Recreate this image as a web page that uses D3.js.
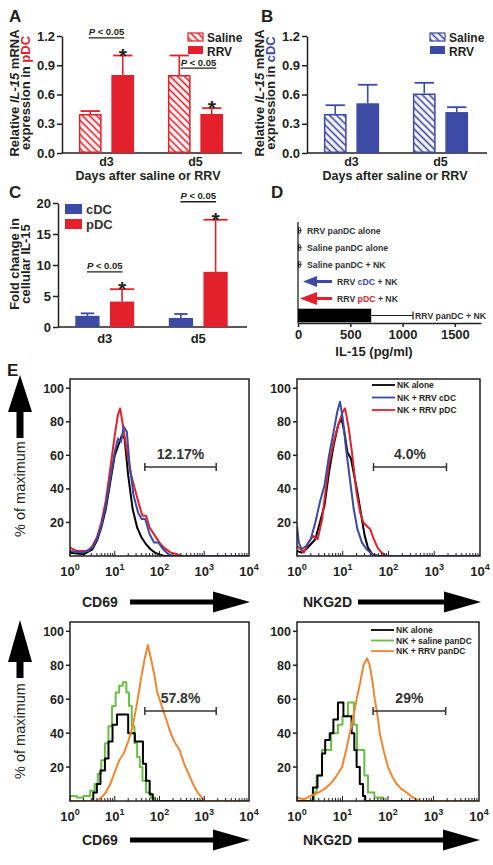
<!DOCTYPE html>
<html><head><meta charset="utf-8">
<script src="https://cdn.jsdelivr.net/npm/d3@7"></script>
<style>body{margin:0;background:#fff}svg{display:block}</style>
</head><body><script>
// ---------------- DATA ----------------
const days = ['d3', 'd5'];
// A: IL-15 mRNA in pDC
const aSeries = ['Saline', 'RRV'];
const aSaline = [0.40, 0.80], aSalineErr = [0.03, 0.20];
const aRRV = [0.80, 0.40], aRRVErr = [0.20, 0.06];
// B: IL-15 mRNA in cDC
const bSaline = [0.40, 0.61], bSalineErr = [0.09, 0.11];
const bRRV = [0.51, 0.42], bRRVErr = [0.19, 0.05];
const abTicks = [0, 0.3, 0.6, 0.9, 1.2];
// C: fold change in cellular IL-15
const cSeries = ['cDC', 'pDC'];
const cCDC = [1.8, 1.45], cCDCErr = [0.4, 0.65];
const cPDC = [4.1, 8.9], cPDCErr = [2.0, 8.4];
const cTicks = [0, 5, 10, 15, 20];
// D: IL-15 (pg/ml)
const dConds = ['RRV panDC alone', 'Saline panDC alone', 'Saline panDC + NK', 'RRV cDC + NK', 'RRV pDC + NK', 'RRV panDC + NK'];
const dVals = [10, 10, 10, 0, 0, 700];
const dErr = [20, 20, 20, 0, 0, 400];
const dTicks = [0, 500, 1000, 1500];
// E: histograms [log10(fluorescence), % of maximum]
const e1Black = [[0,2],[0.3,1],[0.5,4],[0.6,9],[0.7,17],[0.8,28],[0.9,44],[1.0,60],[1.08,66],[1.16,72],[1.22,70],[1.3,48],[1.4,28],[1.5,17],[1.6,11],[1.7,7],[1.8,4],[1.9,2],[2.0,1],[2.1,0],[4,0]];
const e1Red = [[0,5],[0.15,3],[0.4,3],[0.5,6],[0.6,11],[0.7,20],[0.8,33],[0.9,52],[1.0,72],[1.07,84],[1.12,88],[1.17,80],[1.25,66],[1.35,50],[1.45,40],[1.55,30],[1.62,24],[1.7,24],[1.78,17],[1.9,12],[2.0,8],[2.1,5],[2.25,2],[2.4,1],[2.5,0],[4,0]];
const e1Blue = [[0,3],[0.3,2],[0.5,5],[0.6,10],[0.7,18],[0.8,30],[0.9,46],[1.0,62],[1.07,70],[1.14,68],[1.2,77],[1.27,74],[1.33,55],[1.42,36],[1.52,26],[1.6,22],[1.68,22],[1.78,13],[1.88,8],[1.98,8],[2.08,4],[2.2,1],[2.3,0],[4,0]];
const e2Black = [[0,3],[0.1,2],[0.2,4],[0.3,7],[0.4,10],[0.5,20],[0.6,30],[0.7,50],[0.8,66],[0.9,78],[0.97,82],[1.03,75],[1.1,62],[1.18,58],[1.25,48],[1.32,38],[1.4,25],[1.48,12],[1.55,5],[1.62,2],[1.68,0],[4,0]];
const e2Blue = [[0,18],[0.04,8],[0.1,4],[0.2,6],[0.3,10],[0.4,20],[0.5,32],[0.6,42],[0.7,60],[0.8,74],[0.88,86],[0.94,92],[1.0,82],[1.08,62],[1.16,45],[1.24,28],[1.32,16],[1.42,8],[1.52,4],[1.65,1],[1.8,0],[4,0]];
const e2Red = [[0,6],[0.08,4],[0.15,2],[0.25,8],[0.35,12],[0.45,10],[0.55,22],[0.62,38],[0.7,55],[0.8,68],[0.9,78],[1.0,86],[1.05,88],[1.12,78],[1.2,62],[1.3,38],[1.38,26],[1.45,20],[1.52,18],[1.6,16],[1.68,10],[1.76,5],[1.85,2],[1.95,0],[4,0]];
const e3Black = [[0,0],[0.5,0],[0.52,5],[0.6,10],[0.68,18],[0.78,25],[0.86,35],[0.95,45],[1.05,51],[1.3,40],[1.45,35],[1.63,22],[1.7,12],[1.78,4],[1.85,0],[4,0]];
const e3Green = [[0,3],[0.15,2],[0.3,3],[0.45,6],[0.55,10],[0.62,16],[0.7,24],[0.78,34],[0.86,44],[0.94,56],[1.02,64],[1.1,68],[1.18,70],[1.26,64],[1.32,56],[1.38,44],[1.44,34],[1.5,26],[1.56,20],[1.62,12],[1.7,5],[1.8,2],[1.9,0],[4,0]];
const e3Orange = [[0,0],[0.6,0],[0.7,2],[0.8,5],[0.9,10],[1.0,17],[1.1,24],[1.2,28],[1.3,35],[1.4,44],[1.5,58],[1.6,74],[1.67,84],[1.74,92],[1.8,85],[1.88,75],[1.95,64],[2.05,56],[2.15,48],[2.25,40],[2.35,34],[2.45,30],[2.55,22],[2.65,16],[2.75,10],[2.85,5],[2.95,2],[3.02,0],[4,0]];
const e4Black = [[0,0],[0.33,0],[0.35,8],[0.45,15],[0.55,28],[0.62,36],[0.72,40],[0.8,48],[0.9,58],[1.02,50],[1.12,50],[1.2,40],[1.26,30],[1.31,20],[1.38,10],[1.45,3],[1.5,0],[4,0]];
const e4Green = [[0,0],[0.35,0],[0.38,5],[0.43,15],[0.55,30],[0.75,40],[0.9,45],[1.0,50],[1.12,58],[1.25,45],[1.32,30],[1.48,15],[1.56,5],[1.7,2],[1.9,0],[4,0]];
const e4Orange = [[0,2],[0.15,1],[0.3,3],[0.47,5],[0.6,7],[0.73,10],[0.85,14],[0.99,20],[1.08,30],[1.16,40],[1.24,50],[1.31,60],[1.39,70],[1.46,80],[1.54,84],[1.6,80],[1.66,70],[1.71,60],[1.77,50],[1.82,40],[1.9,30],[2.0,20],[2.1,14],[2.19,10],[2.3,7],[2.41,5],[2.55,2],[2.7,0],[4,0]];
const gateRange = [47, 1850];
const gateLevel = 53;
const gateLabels = ['12.17%', '4.0%', '57.8%', '29%'];
const logTicks = [0, 1, 2, 3, 4];
const pctTicks = [20, 40, 60, 80, 100];
const legTop = ['NK alone', 'NK + RRV cDC', 'NK + RRV pDC'];
const legBottom = ['NK alone', 'NK + saline panDC', 'NK + RRV panDC'];

// ---------------- STYLE ----------------
const RED = '#e3202c', BLUE = '#3c4aa5', GREEN = '#6abd45', ORANGE = '#f2862e', INK = '#231f20', GREY = '#333';
const FONT = '"Liberation Sans", Arial, Helvetica, sans-serif';

const svg = d3.select('body').append('svg').attr('width', 493).attr('height', 865).style('font-family', FONT);
const defs = svg.append('defs');
function hatch(id, color) {
  const p = defs.append('pattern').attr('id', id).attr('patternUnits', 'userSpaceOnUse')
    .attr('width', 5).attr('height', 5).attr('patternTransform', 'rotate(-45)');
  p.append('rect').attr('width', 5).attr('height', 5).attr('fill', '#fff');
  p.append('line').attr('x1', 1.5).attr('x2', 1.5).attr('y1', -1).attr('y2', 6).attr('stroke', color).attr('stroke-width', 1.7);
}
hatch('hR', RED); hatch('hB', BLUE);

function T(x, y, s, o = {}) {
  const t = svg.append('text').attr('x', x).attr('y', y)
    .attr('font-size', o.size || 13).attr('font-weight', o.weight || 'bold')
    .attr('fill', o.fill || INK).attr('text-anchor', o.anchor || 'start');
  if (o.rotate) t.attr('transform', `rotate(-90,${x},${y})`);
  if (Array.isArray(s)) s.forEach(p => {
    const ts = t.append('tspan').text(p.t);
    if (p.fill) ts.attr('fill', p.fill);
    if (p.italic) ts.attr('font-style', 'italic');
  });
  else t.text(s);
  return t;
}
function L(x1, y1, x2, y2, c = INK, w = 1.5) {
  return svg.append('line').attr('x1', x1).attr('y1', y1).attr('x2', x2).attr('y2', y2).attr('stroke', c).attr('stroke-width', w);
}
function styleAxis(g, size) {
  g.selectAll('path, line').attr('stroke', INK).attr('stroke-width', 1.5);
  g.selectAll('text').attr('font-size', size).attr('font-weight', 'bold').attr('fill', INK).attr('font-family', FONT);
}

// ---------------- BAR PANELS ----------------
function barPanel(o) {
  const y = d3.scaleLinear().domain(o.yDomain).range([o.yBottom, o.yTop]);
  const x0 = d3.scaleBand().domain(days).range([o.xLeft, o.xRight]).paddingInner(o.pi).paddingOuter(o.pi / 2);
  const x1 = d3.scaleBand().domain(o.series.map(s => s.key)).range([0, x0.bandwidth()]).paddingInner(0.3);
  const ya = svg.append('g').attr('transform', `translate(${o.xLeft},0)`)
    .call(d3.axisLeft(y).tickValues(o.ticks).tickFormat(o.fmt).tickSize(5).tickPadding(2).tickSizeOuter(0));
  styleAxis(ya, o.tickSize || 13);
  L(o.xLeft, y(0), o.xRight + 2, y(0));
  o.series.forEach(s => {
    days.forEach((d, i) => {
      const bx = x0(d) + x1(s.key), bw = x1.bandwidth();
      const v = s.vals[i], top = y(v + s.errs[i]), cx = bx + bw / 2;
      L(cx, y(v), cx, top, s.color, 1.6);
      L(cx - bw * s.cap / 2, top, cx + bw * s.cap / 2, top, s.color, 1.8);
      svg.append('rect').attr('x', bx + 0.75).attr('y', y(v) + 0.75).attr('width', bw - 1.5)
        .attr('height', Math.max(0, y(0) - y(v) - 1.5)).attr('fill', s.fill).attr('stroke', s.color).attr('stroke-width', 1.5);
    });
  });
  days.forEach(d => T(x0(d) + x0.bandwidth() / 2, o.dayY, d, { anchor: 'middle', size: o.daySize || 13 }));
  // significance
  (o.sig || []).forEach(sg => {
    const i = days.indexOf(sg.day);
    const s = o.series[1];
    const cx = x0(sg.day) + x1(s.key) + x1.bandwidth() / 2;
    T(cx, y(s.vals[i] + s.errs[i]) + 7, '*', { anchor: 'middle', size: 21 });
    const gx = x0(sg.day) + x0.bandwidth() / 2 + (sg.dx || 0);
    const ly = y(sg.level);
    const t = T(gx, ly - 2.5, [{ t: 'P', italic: true }, { t: ' < 0.05' }], { anchor: 'middle', size: 9.5 });
    const w = t.node().getComputedTextLength();
    L(gx - w / 2, ly, gx + w / 2, ly, INK, 1.3);
  });
  return { x0, x1, y };
}

// Panel A
barPanel({
  yDomain: [0, 1.2], yBottom: 153, yTop: 36, xLeft: 62, xRight: 240, pi: 0.38, ticks: abTicks, fmt: d3.format('.1f'), dayY: 166, daySize: 12.5,
  series: [
    { key: 'Saline', vals: aSaline, errs: aSalineErr, color: RED, fill: 'url(#hR)', cap: 0.85 },
    { key: 'RRV', vals: aRRV, errs: aRRVErr, color: RED, fill: RED, cap: 0.85 }],
  sig: [{ day: 'd3', level: 1.18 }, { day: 'd5', level: 0.87, dx: 3 }]
});
T(9, 22, 'A', { size: 17 });
T(148, 180, 'Days after saline or RRV', { anchor: 'middle', size: 12.5 });
T(19, 93, [{ t: 'Relative ' }, { t: 'IL-15', italic: true }, { t: ' mRNA' }], { rotate: true, anchor: 'middle' });
T(30, 93, [{ t: 'expression in ' }, { t: 'pDC', fill: RED }], { rotate: true, anchor: 'middle' });
svg.append('rect').attr('x', 188).attr('y', 33).attr('width', 15).attr('height', 8).attr('fill', 'url(#hR)').attr('stroke', RED).attr('stroke-width', 1.2);
svg.append('rect').attr('x', 188).attr('y', 46).attr('width', 15).attr('height', 8).attr('fill', RED);
T(207, 42, aSeries[0], { size: 12 }); T(207, 56, aSeries[1], { size: 12 });

// Panel B
barPanel({
  yDomain: [0, 1.2], yBottom: 153, yTop: 36, xLeft: 307, xRight: 485, pi: 0.38, ticks: abTicks, fmt: d3.format('.1f'), dayY: 166, daySize: 12.5,
  series: [
    { key: 'Saline', vals: bSaline, errs: bSalineErr, color: BLUE, fill: 'url(#hB)', cap: 0.85 },
    { key: 'RRV', vals: bRRV, errs: bRRVErr, color: BLUE, fill: BLUE, cap: 0.85 }]
});
T(261, 22, 'B', { size: 17 });
T(395, 180, 'Days after saline or RRV', { anchor: 'middle', size: 12.5 });
T(264, 93, [{ t: 'Relative ' }, { t: 'IL-15', italic: true }, { t: ' mRNA' }], { rotate: true, anchor: 'middle' });
T(275, 93, [{ t: 'expression in ' }, { t: 'cDC', fill: BLUE }], { rotate: true, anchor: 'middle' });
svg.append('rect').attr('x', 430).attr('y', 33).attr('width', 15).attr('height', 8).attr('fill', 'url(#hB)').attr('stroke', BLUE).attr('stroke-width', 1.2);
svg.append('rect').attr('x', 430).attr('y', 46).attr('width', 15).attr('height', 8).attr('fill', BLUE);
T(449, 42, aSeries[0], { size: 12 }); T(449, 56, aSeries[1], { size: 12 });

// Panel C
barPanel({
  yDomain: [0, 20], yBottom: 327, yTop: 203, xLeft: 58, xRight: 245, pi: 0.37, ticks: cTicks, fmt: d3.format('d'), dayY: 343,
  series: [
    { key: 'cDC', vals: cCDC, errs: cCDCErr, color: BLUE, fill: BLUE, cap: 0.55 },
    { key: 'pDC', vals: cPDC, errs: cPDCErr, color: RED, fill: RED, cap: 1.0 }],
  sig: [{ day: 'd3', level: 8.9 }, { day: 'd5', level: 20.2 }]
});
T(9, 198, 'C', { size: 17 });
T(19, 264, 'Fold change in', { rotate: true, anchor: 'middle' });
T(30, 264, 'cellular IL-15', { rotate: true, anchor: 'middle' });
svg.append('rect').attr('x', 65).attr('y', 204).attr('width', 17).attr('height', 10).attr('fill', BLUE);
svg.append('rect').attr('x', 65).attr('y', 219).attr('width', 17).attr('height', 10).attr('fill', RED);
T(86, 214, cSeries[0], { size: 13, fill: GREY }); T(86, 229, cSeries[1], { size: 13, fill: GREY });

// ---------------- PANEL D ----------------
(function () {
  const x = d3.scaleLinear().domain([0, 1750]).range([298, 481]);
  const y = d3.scaleBand().domain(dConds).range([222, 324]).paddingInner(0.2).paddingOuter(0.1);
  T(271, 198, 'D', { size: 17 });
  const xa = svg.append('g').attr('transform', 'translate(0,323)')
    .call(d3.axisBottom(x).tickValues(dTicks).tickFormat(d3.format('d')).tickSize(4).tickPadding(3).tickSizeOuter(0));
  styleAxis(xa, 13);
  L(298, 222, 298, 323, INK, 1.3);
  dConds.forEach((c, i) => {
    const cy = y(c) + y.bandwidth() / 2;
    if (dVals[i] > 0) {
      const h = i === 5 ? y.bandwidth() : 6;
      svg.append('rect').attr('x', x(0)).attr('y', cy - h / 2).attr('width', x(dVals[i]) - x(0)).attr('height', h).attr('fill', '#000');
      const ex = x(dVals[i] + dErr[i]);
      L(x(dVals[i]), cy, ex, cy, INK, 1.2);
      const ch = i === 5 ? 8 : 7;
      if (i === 5) L(ex, cy - ch / 2, ex, cy + ch / 2, INK, 1.2);
      else svg.append('path').attr('d', `M${ex - 1.5},${cy - ch / 2} Q${ex + 1.5},${cy} ${ex - 1.5},${cy + ch / 2}`).attr('fill', 'none').attr('stroke', GREY).attr('stroke-width', 1);
    }
  });
  const lab = (c, parts, tx) => T(tx, y(c) + y.bandwidth() / 2 + 3, parts, { size: 8.7, fill: GREY });
  lab(dConds[0], dConds[0], 307);
  lab(dConds[1], dConds[1], 307);
  lab(dConds[2], dConds[2], 307);
  lab(dConds[3], [{ t: 'RRV ' }, { t: 'cDC', fill: BLUE }, { t: ' + NK' }], 337);
  lab(dConds[4], [{ t: 'RRV ' }, { t: 'pDC', fill: RED }, { t: ' + NK' }], 337);
  lab(dConds[5], dConds[5], x(dVals[5] + dErr[5]) + 2);
  // arrows pointing to the (empty) cDC / pDC rows
  function arrow(c, color, tip, hl, hh) {
    const cy = y(c) + y.bandwidth() / 2;
    svg.append('path').attr('d', `M${tip},${cy} L${tip + hl},${cy - hh} L${tip + hl},${cy - 1.5} L332,${cy - 1.5} L332,${cy + 1.5} L${tip + hl},${cy + 1.5} L${tip + hl},${cy + hh} Z`).attr('fill', color);
  }
  arrow(dConds[3], BLUE, 303, 14, 5.5);
  arrow(dConds[4], RED, 300, 17, 6.5);
  T(374, 356, 'IL-15 (pg/ml)', { anchor: 'middle' });
})();

// ---------------- PANEL E ----------------
function hArrow(x1, x2, cy, sh, hl, hh) {
  svg.append('path').attr('d', `M${x1},${cy - sh} L${x2 - hl},${cy - sh} L${x2 - hl},${cy - hh} L${x2},${cy} L${x2 - hl},${cy + hh} L${x2 - hl},${cy + sh} L${x1},${cy + sh} Z`).attr('fill', '#000');
}
function vArrow(cx, tip, end, sw, hl, hw) {
  svg.append('path').attr('d', `M${cx},${tip} L${cx + hw},${tip + hl} L${cx + sw},${tip + hl} L${cx + sw},${end} L${cx - sw},${end} L${cx - sw},${tip + hl} L${cx - hw},${tip + hl} Z`).attr('fill', '#000');
}
let clipN = 0;
function flowPanel(o) {
  const x = d3.scaleLog().domain([1, 1e4]).range([o.l, o.r]);
  const y = d3.scaleLinear().domain([0, 105.5]).range([o.b, o.t]);
  const id = 'clip' + (clipN++);
  defs.append('clipPath').attr('id', id).append('rect').attr('x', o.l).attr('y', o.t).attr('width', o.r - o.l).attr('height', o.b - o.t);
  const line = d3.line().x(d => x(Math.pow(10, d[0]))).y(d => y(d[1]));
  o.curves.forEach(c => {
    svg.append('path').datum(c.data).attr('clip-path', `url(#${id})`)
      .attr('d', line.curve(c.step ? d3.curveStepAfter : d3.curveLinear))
      .attr('fill', 'none').attr('stroke', c.color).attr('stroke-width', 2).attr('stroke-linejoin', 'round');
  });
  svg.append('rect').attr('x', o.l).attr('y', o.t).attr('width', o.r - o.l).attr('height', o.b - o.t)
    .attr('fill', 'none').attr('stroke', INK).attr('stroke-width', 1.5);
  pctTicks.forEach(v => { L(o.l - 4, y(v), o.l, y(v)); T(o.l - 6, y(v) + 4.5, v, { anchor: 'end', size: 12.5 }); });
  for (let p = 0; p < 4; p++) for (let m = 1; m < 10; m++) {
    const xv = x(m * Math.pow(10, p));
    L(xv, o.b, xv, o.b - (m === 1 ? 5 : 3), INK, 1);
  }
  logTicks.forEach(p => {
    const t = svg.append('text').attr('x', x(Math.pow(10, p))).attr('y', o.b + 20).attr('text-anchor', 'middle')
      .attr('font-size', 13).attr('font-weight', 'bold').attr('fill', INK);
    t.append('tspan').text('10');
    t.append('tspan').attr('dy', -6).attr('font-size', 9).text(p);
  });
  // gate
  const gy = y(gateLevel), g1 = x(gateRange[0]), g2 = x(gateRange[1]);
  L(g1, gy, g2, gy, GREY, 1.5); L(g1, gy - 4, g1, gy + 4, GREY, 1.5); L(g2, gy - 4, g2, gy + 4, GREY, 1.5);
  T((g1 + g2) / 2, gy - 8, o.gate, { anchor: 'middle', size: 14, fill: GREY });
  if (o.legend) o.legend.forEach((s, i) => {
    const ly = o.t + o.legY + i * o.legDy;
    L(o.r - 108, ly, o.r - 85, ly, o.curves[o.legOrder[i]].color, 1.8);
    T(o.r - 83, ly + 3, s, { size: 8.5 });
  });
  // marker arrow below
  T(o.l + (o.label === 'CD69' ? 12 : 6), o.arrowY + 5, o.label, { size: 14 });
  hArrow(o.l + (o.label === 'CD69' ? 60 : 61), o.r + 1, o.arrowY, 2.5, 37, 10.5);
}
T(7, 376, 'E', { size: 17 });
flowPanel({ l: 70, r: 249, t: 379, b: 556, label: 'CD69', arrowY: 602, gate: gateLabels[0],
  curves: [{ data: e1Black, color: '#000' }, { data: e1Red, color: RED }, { data: e1Blue, color: BLUE }] });
flowPanel({ l: 297, r: 480, t: 379, b: 556, label: 'NKG2D', arrowY: 602, gate: gateLabels[1],
  curves: [{ data: e2Black, color: '#000' }, { data: e2Red, color: RED }, { data: e2Blue, color: BLUE }],
  legend: legTop, legOrder: [0, 2, 1], legY: 6, legDy: 12.5 });
flowPanel({ l: 70, r: 249, t: 622, b: 801, label: 'CD69', arrowY: 840, gate: gateLabels[2],
  curves: [{ data: e3Green, color: GREEN, step: true }, { data: e3Black, color: '#000', step: true }, { data: e3Orange, color: ORANGE }] });
flowPanel({ l: 297, r: 479, t: 622, b: 801, label: 'NKG2D', arrowY: 840, gate: gateLabels[3],
  curves: [{ data: e4Green, color: GREEN, step: true }, { data: e4Black, color: '#000', step: true }, { data: e4Orange, color: ORANGE }],
  legend: legBottom, legOrder: [1, 0, 2], legY: 8, legDy: 10.5 });
// y-axis arrows + labels
vArrow(20, 375, 438, 3.5, 37, 12);
T(25, 489, '% of maximum', { rotate: true, anchor: 'middle', size: 14.5, weight: 'normal' });
vArrow(20, 620, 678, 3.5, 42, 12);
T(25, 731, '% of maximum', { rotate: true, anchor: 'middle', size: 14.5, weight: 'normal' });
</script></body></html>
